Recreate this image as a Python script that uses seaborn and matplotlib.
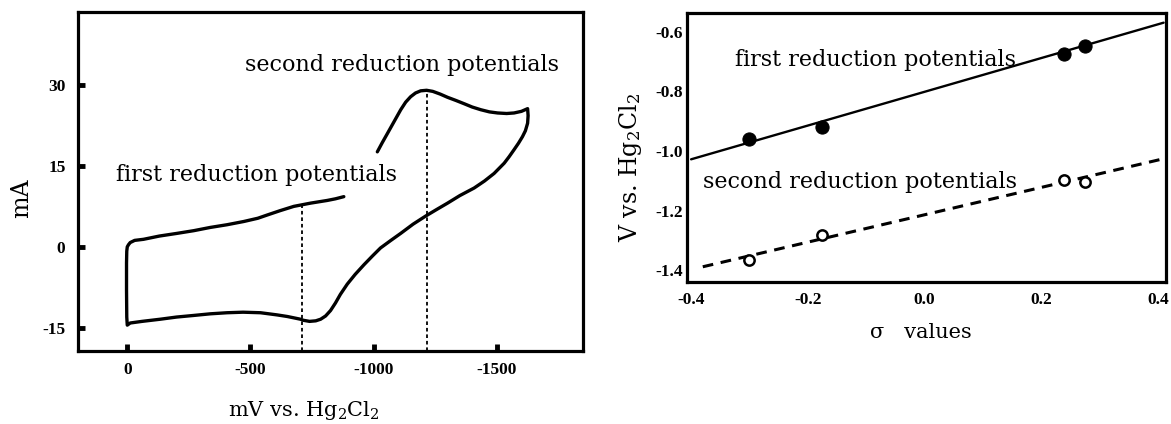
import numpy as np
import pandas as pd
import matplotlib
matplotlib.use("Agg")
import matplotlib.pyplot as plt
import seaborn as sns

# --- cyclic voltammogram (left) ---
cv_mv = [-1015, -1035, -1056, -1083, -1110, -1130, -1150, -1170, -1191, -1215,
         -1240, -1270, -1300, -1335, -1368, -1400, -1435, -1470, -1503, -1540,
         -1570, -1600, -1625, -1627, -1625, -1616, -1604, -1588, -1570, -1550,
         -1530, -1489, -1450, -1408, -1350, -1300, -1255, -1211, -1160, -1110,
         -1070, -1028, -995, -961, -925, -893, -865, -845, -825, -805,
         -785, -765, -740, -715, -703, -650, -608, -541, -470, -405,
         -337, -270, -200, -134, -60, -12, 0, 2, 3, 3,
         2, 0, -5, -12, -30, -66, -130, -202, -270, -337,
         -405, -473, -530, -568, -620, -676, -710, -744, -812, -845, -879]
cv_ma = [17.6, 19.3, 21.0, 23.2, 25.4, 26.8, 27.8, 28.5, 28.9, 29.0,
         28.8, 28.3, 27.7, 27.1, 26.5, 25.9, 25.4, 25.0, 24.8, 24.7,
         24.8, 25.1, 25.6, 24.3, 22.9, 21.5, 20.4, 19.2, 18.0, 16.7,
         15.5, 13.6, 12.2, 10.9, 9.5, 8.1, 6.9, 5.7, 4.2, 2.5,
         1.2, -0.2, -1.7, -3.3, -5.1, -6.9, -8.8, -10.4, -11.8, -12.8,
         -13.4, -13.7, -13.8, -13.6, -13.4, -12.9, -12.6, -12.2, -12.1, -12.2,
         -12.4, -12.7, -13.0, -13.4, -13.8, -14.1, -14.5, -13.0, -8.0, -3.0,
         -0.8, 0.0, 0.4, 0.8, 1.2, 1.4, 2.0, 2.5, 3.0, 3.6,
         4.1, 4.7, 5.3, 5.9, 6.7, 7.5, 7.8, 8.1, 8.6, 8.9, 9.3]
peak_mv = [-710, -1215]
peak_ma = [7.8, 29.0]
cv_xticks = [0, -500, -1000, -1500]
cv_yticks = [-15, 0, 15, 30]

# --- Hammett plot (right) ---
sigma = [-0.30, -0.175, 0.24, 0.275]
first_red = [-0.961, -0.919, -0.675, -0.648]
second_red = [-1.366, -1.282, -1.098, -1.103]
first_fit_sigma = [-0.40, 0.41]
first_fit = [-1.028, -0.569]
second_fit_sigma = [-0.38, 0.41]
second_fit = [-1.389, -1.026]
sig_xticks = [-0.4, -0.2, 0.0, 0.2, 0.4]
sig_yticks = [-0.6, -0.8, -1.0, -1.2, -1.4]

sns.set_style("white")
plt.rcParams["font.family"] = ["DejaVu Serif"]
plt.rcParams["mathtext.fontset"] = "dejavuserif"
plt.rcParams["axes.unicode_minus"] = False
for key in ("text.color", "axes.labelcolor", "xtick.color", "ytick.color"):
    plt.rcParams[key] = "black"

fig = plt.figure(figsize=(11.71, 4.24), dpi=100)
ax1 = fig.add_axes([0.0666, 0.172, 0.4313, 0.7997])
ax2 = fig.add_axes([0.5867, 0.335, 0.409, 0.634])

tick_font = dict(family="Liberation Serif", weight="bold", size=12.5)
note_size = 16

# left panel
cv = pd.DataFrame({"mV": cv_mv, "mA": cv_ma})
sns.lineplot(data=cv, x="mV", y="mA", sort=False, estimator=None,
             color="black", lw=2.4, ax=ax1)
ax1.vlines(peak_mv, -19.3, peak_ma, colors="black", lw=1.3,
           linestyles=(0, (2, 1.6)))
ax1.set_xlim(200, -1850)
ax1.set_ylim(-19.3, 43.5)
ax1.set_xticks(cv_xticks)
ax1.set_yticks(cv_yticks)
ax1.set_xticklabels([str(v) for v in cv_xticks], **tick_font)
ax1.set_yticklabels([str(v) for v in cv_yticks], **tick_font)
ax1.tick_params(bottom=True, left=True, direction="in", length=5, width=3.5,
                color="black")
ax1.tick_params(axis="y", pad=9)
ax1.tick_params(axis="x", pad=8)
ax1.set_xlabel("")
ax1.set_ylabel("")
ax1.text(-476, 33.7, "second reduction potentials", fontsize=note_size,
         ha="left", va="center")
ax1.text(45, 13.3, "first reduction potentials", fontsize=note_size,
         ha="left", va="center")

# right panel
sns.lineplot(x=first_fit_sigma, y=first_fit, color="black", lw=1.7, ax=ax2)
sns.lineplot(x=second_fit_sigma, y=second_fit, color="black", lw=2.2,
             linestyle=(0, (3.5, 2.5)), ax=ax2)
sns.scatterplot(x=sigma, y=first_red, color="black", s=90, edgecolor="black",
                ax=ax2, zorder=3)
sns.scatterplot(x=sigma, y=second_red, facecolor="white", edgecolor="black",
                linewidth=1.8, s=55, ax=ax2, zorder=3)
ax2.set_xlim(-0.407, 0.414)
ax2.set_ylim(-1.44, -0.537)
ax2.set_xticks(sig_xticks)
ax2.set_yticks(sig_yticks)
ax2.set_xticklabels([f"{v:.1f}" for v in sig_xticks], **tick_font)
ax2.set_yticklabels([f"{v:.1f}" for v in sig_yticks], **tick_font)
ax2.tick_params(length=0, pad=3)
ax2.tick_params(axis="x", pad=7)
ax2.set_xlabel("")
ax2.set_ylabel("")
ax2.text(-0.324, -0.695, "first reduction potentials", fontsize=note_size,
         ha="left", va="center")
ax2.text(-0.379, -1.104, "second reduction potentials", fontsize=note_size,
         ha="left", va="center")

for ax in (ax1, ax2):
    for sp in ax.spines.values():
        sp.set_visible(True)
        sp.set_color("black")
        sp.set_linewidth(2.3)

fig.text(22 / 1171, 1 - 198 / 424, "mA", rotation=90, fontsize=17,
         ha="center", va="center")
fig.text(304 / 1171, 1 - 410 / 424, "mV vs. Hg$_2$Cl$_2$", fontsize=15,
         ha="center", va="center")
fig.text(630 / 1171, 1 - 167 / 424, "V vs. Hg$_2$Cl$_2$", rotation=90,
         fontsize=17, ha="center", va="center")
fig.text(921 / 1171, 1 - 333 / 424, "σ   values", fontsize=15,
         ha="center", va="center")

fig.savefig("out.png", dpi=100)
